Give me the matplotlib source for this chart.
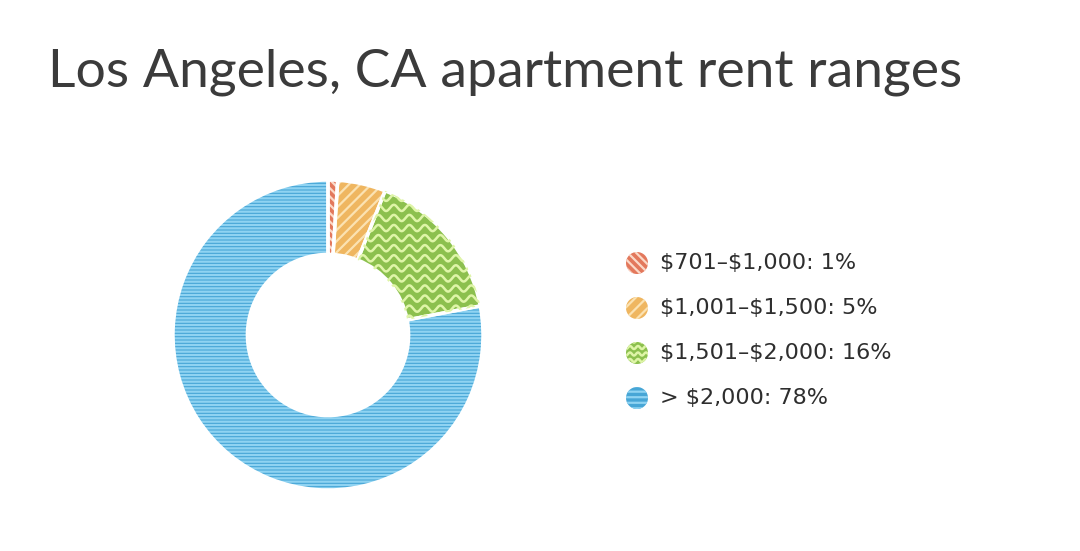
import numpy as np
import matplotlib.pyplot as plt
from matplotlib.patches import Circle

# data
labels = ['$701–$1,000', '$1,001–$1,500', '$1,501–$2,000', '> $2,000']
shares = [1, 5, 16, 78]

# styling per slice
base_colors = ['#e3785c', '#efb660', '#8cc04e', '#47a6d6']
stripe_colors = ['#fbd9c8', '#fbe2b2', '#dff5a8', '#8fd3f2']
hatches = ['\\\\\\\\', '///', None, '-----']

plt.rcParams['hatch.linewidth'] = 1.6

W, H = 1080, 551
fig = plt.figure(figsize=(W / 100, H / 100), dpi=100)

fig.text(48 / W, 1 - 72 / H, 'Los Angeles, CA apartment rent ranges',
         fontsize=38.5, family='Lato', color='#3b3b3b', va='center', ha='left')

# donut
cx, cy, r = 328, 335, 155
ax = fig.add_axes([(cx - r) / W, 1 - (cy + r) / H, 2 * r / W, 2 * r / H])
wedges, _ = ax.pie(shares, startangle=90, counterclock=False, radius=1,
                   wedgeprops=dict(width=0.48, linewidth=0))
for w, base, stripe, h in zip(wedges, base_colors, stripe_colors, hatches):
    w.set_facecolor(base)
    w.set_edgecolor(stripe)
    if h:
        w.set_hatch(h)

# wavy pattern for the green slice
green = wedges[2]
xs = np.linspace(-1, 1, 800)
for y0 in np.arange(-1, 1, 0.065):
    line, = ax.plot(xs, y0 + 0.02 * np.sin(xs * 2 * np.pi / 0.1), color=stripe_colors[2], lw=1.8)
    line.set_clip_path(green)

# white gaps between slices
ax.pie(shares, startangle=90, counterclock=False, radius=1,
       wedgeprops=dict(width=0.48, linewidth=2.5, edgecolor='white', fill=False))
ax.set_xlim(-1.0, 1.0)
ax.set_ylim(-1.0, 1.0)
ax.set_aspect('equal')
ax.axis('off')

# legend
lax = fig.add_axes([0, 0, 1, 1])
lax.set_xlim(0, W)
lax.set_ylim(H, 0)
lax.axis('off')
rows_y = [263, 308, 353, 398]
for i, (lab, s) in enumerate(zip(labels, shares)):
    y = rows_y[i]
    c = Circle((637, y), 11, facecolor=base_colors[i], edgecolor=stripe_colors[i], linewidth=0)
    if hatches[i]:
        c.set_hatch(hatches[i][:3] if i == 3 else hatches[i])
    lax.add_patch(c)
    if i == 2:
        xx = np.linspace(624, 650, 100)
        for yy in np.arange(y - 12, y + 12, 6.5):
            ln, = lax.plot(xx, yy + 1.5 * np.sin(xx * 2 * np.pi / 8), color=stripe_colors[2], lw=1.8)
            ln.set_clip_path(c)
    lax.text(660, y, f'{lab}: {s}%', fontsize=16, family='DejaVu Sans', color='#2e2e2e',
             va='center', ha='left', parse_math=False)

fig.savefig('out.png', dpi=100, facecolor='white')
